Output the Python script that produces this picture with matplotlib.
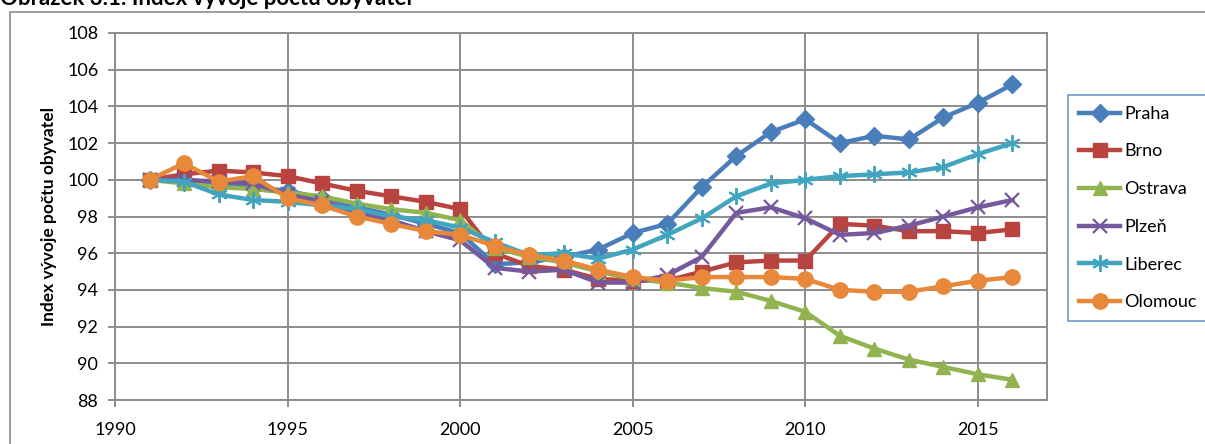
import matplotlib.pyplot as plt
from matplotlib.patches import Rectangle

plt.rcParams['font.family'] = ['Lato', 'DejaVu Sans']

# data
years = list(range(1991, 2017))
praha = [100.0, 99.9, 99.8, 99.6, 99.4, 99.0, 98.5, 98.1, 97.6, 97.1, 95.4, 95.5, 95.8,
         96.2, 97.1, 97.6, 99.6, 101.3, 102.6, 103.3, 102.0, 102.4, 102.2, 103.4, 104.2, 105.2]
brno = [100.0, 100.3, 100.5, 100.4, 100.2, 99.8, 99.4, 99.1, 98.8, 98.4, 96.0, 95.3, 95.1,
        94.6, 94.5, 94.5, 95.0, 95.5, 95.6, 95.6, 97.6, 97.5, 97.2, 97.2, 97.1, 97.3]
ostrava = [100.0, 99.8, 99.6, 99.5, 99.3, 99.1, 98.7, 98.4, 98.2, 97.8, 96.3, 95.8, 95.5,
           95.0, 94.6, 94.4, 94.1, 93.9, 93.4, 92.8, 91.5, 90.8, 90.2, 89.8, 89.4, 89.1]
plzen = [100.0, 100.0, 99.9, 99.8, 99.2, 98.8, 98.2, 97.8, 97.2, 96.7, 95.2, 95.0, 95.1,
         94.4, 94.4, 94.8, 95.8, 98.2, 98.5, 97.9, 97.0, 97.1, 97.5, 98.0, 98.5, 98.9]
liberec = [100.0, 99.9, 99.2, 98.9, 98.8, 98.6, 98.4, 98.0, 97.8, 97.4, 96.6, 95.9, 96.0,
           95.7, 96.2, 97.0, 97.9, 99.1, 99.8, 100.0, 100.2, 100.3, 100.4, 100.7, 101.4, 102.0]
olomouc = [100.0, 100.9, 99.9, 100.2, 99.0, 98.6, 98.0, 97.6, 97.2, 97.0, 96.4, 95.9, 95.6,
           95.1, 94.7, 94.5, 94.7, 94.7, 94.7, 94.6, 94.0, 93.9, 93.9, 94.2, 94.5, 94.7]

series = [
    ("Praha", praha, "#4A7EBB", "D", 9, 1.0),
    ("Brno", brno, "#B8433F", "s", 10, 1.0),
    ("Ostrava", ostrava, "#91B350", "^", 10, 1.0),
    ("Plzeň", plzen, "#76599C", "x", 10, 1.6),
    ("Liberec", liberec, "#41A5C0", (6, 2, 0), 12, 1.4),
    ("Olomouc", olomouc, "#E8883A", "o", 11, 1.0),
]

fig = plt.figure(figsize=(12.05, 4.44), dpi=100)
ax = fig.add_axes([115 / 1205, 44 / 444, 932 / 1205, 367 / 444])

# outer frame of the figure region
fig.patches.append(Rectangle((10 / 1205, -0.01), 1.0, 1 - 12 / 444 + 0.01,
                             transform=fig.transFigure, fill=False,
                             edgecolor='#8c8c8c', linewidth=1.2))

for name, vals, color, marker, ms, mew in series:
    ax.plot(years, vals, color=color, linewidth=3.2, marker=marker, markersize=ms,
            markerfacecolor=color, markeredgecolor=color, markeredgewidth=mew,
            label=name, zorder=3)

ax.set_xlim(1990, 2017)
ax.set_ylim(88, 108)
ax.set_xticks(range(1990, 2016, 5))
ax.set_yticks(range(88, 109, 2))
ax.grid(True, color='#8c8c8c', linewidth=1.4, zorder=0)
for sp in ax.spines.values():
    sp.set_color('#8c8c8c')
    sp.set_linewidth(1.4)
ax.tick_params(axis='both', colors='#8c8c8c', labelcolor='black', labelsize=13,
               length=5, width=1.4)
ax.tick_params(axis='x', pad=11)
ax.tick_params(axis='y', pad=7)
ax.set_ylabel("Index vývoje počtu obyvatel", fontsize=12.5, fontweight='bold', labelpad=7)

fig.text(0.0, 1 - 5 / 444, "Obrázek 3.1: Index vývoje počtu obyvatel",
         fontsize=16, fontweight='bold', va='baseline', ha='left')

leg = ax.legend(loc='upper left', bbox_to_anchor=(1068 / 1205, 1 - 95 / 444),
                bbox_transform=fig.transFigure, fontsize=13, frameon=True,
                fancybox=False, handlelength=2.3, labelspacing=1.2,
                handletextpad=0.2, borderpad=0.6, borderaxespad=0)
leg.get_frame().set_edgecolor('#4A7EBB')
leg.get_frame().set_linewidth(1.2)

plt.savefig("out.png", dpi=100)
